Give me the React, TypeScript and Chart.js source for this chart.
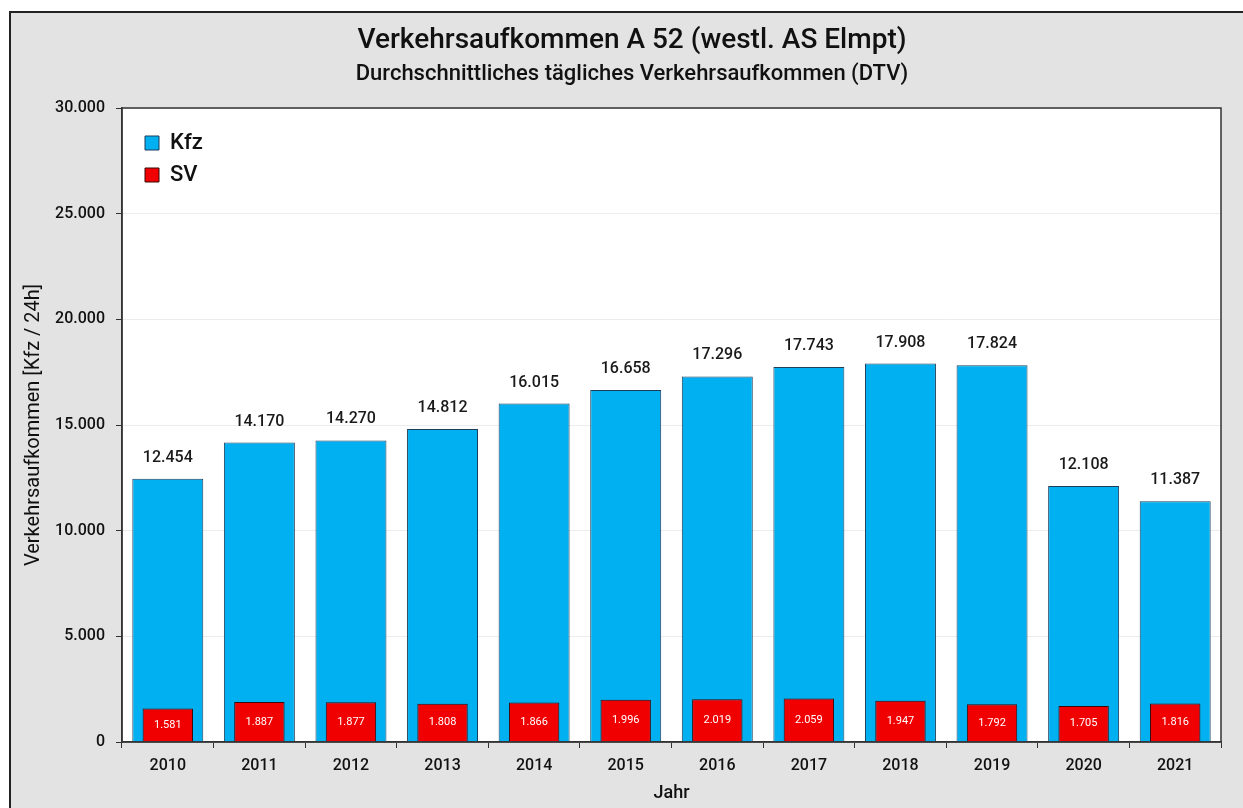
import React, { useEffect, useRef } from "react";
import { Chart, registerables } from "chart.js";

Chart.register(...registerables);

const years = ["2010", "2011", "2012", "2013", "2014", "2015", "2016", "2017", "2018", "2019", "2020", "2021"];
const kfzValues = [12454, 14170, 14270, 14812, 16015, 16658, 17296, 17743, 17908, 17824, 12108, 11387];
const svValues = [1581, 1887, 1877, 1808, 1866, 1996, 2019, 2059, 1947, 1792, 1705, 1816];
const yTicks = [0, 5000, 10000, 15000, 20000, 25000, 30000];

const FONT = 'Roboto, "Liberation Sans", sans-serif';

const fmt = (v: number) => String(v).replace(/\B(?=(\d{3})+(?!\d))/g, ".");

const framePlugin = {
  id: "frame",
  beforeDraw(chart: any) {
    const { ctx, width, height, chartArea } = chart;
    ctx.save();
    ctx.fillStyle = "#ffffff";
    ctx.fillRect(0, 0, width, height);
    ctx.fillStyle = "#e3e3e3";
    ctx.fillRect(9, 11, width - 9, height - 11);
    ctx.strokeStyle = "#222222";
    ctx.lineWidth = 2;
    ctx.beginPath();
    ctx.moveTo(10, height);
    ctx.lineTo(10, 12);
    ctx.lineTo(width, 12);
    ctx.stroke();
    ctx.fillStyle = "#ffffff";
    ctx.fillRect(chartArea.left, chartArea.top, chartArea.right - chartArea.left, chartArea.bottom - chartArea.top);
    ctx.restore();
  },
  afterDraw(chart: any) {
    const { ctx, chartArea } = chart;
    ctx.save();
    ctx.strokeStyle = "#333333";
    ctx.lineWidth = 1.5;
    ctx.strokeRect(chartArea.left, chartArea.top, chartArea.right - chartArea.left, chartArea.bottom - chartArea.top);
    ctx.restore();
  },
};

const legendPlacePlugin = {
  id: "legendPlace",
  afterLayout(chart: any) {
    const lg = chart.legend;
    if (!lg) return;
    const ca = chart.chartArea;
    const w = lg.width;
    const h = lg.height;
    lg.left = ca.left + 13;
    lg.top = ca.top + 14;
    lg.right = lg.left + w;
    lg.bottom = lg.top + h;
  },
};

const valueLabelPlugin = {
  id: "valueLabels",
  afterDatasetsDraw(chart: any) {
    const { ctx } = chart;
    ctx.save();
    ctx.textAlign = "center";
    ctx.textBaseline = "middle";
    const kfzMeta = chart.getDatasetMeta(0);
    ctx.fillStyle = "#1a1a1a";
    ctx.font = `500 16px ${FONT}`;
    kfzMeta.data.forEach((bar: any, i: number) => {
      ctx.fillText(fmt(kfzValues[i]), bar.x, bar.y - 21);
    });
    const svMeta = chart.getDatasetMeta(1);
    ctx.fillStyle = "#ffffff";
    ctx.font = `11px ${FONT}`;
    svMeta.data.forEach((bar: any, i: number) => {
      ctx.fillText(fmt(svValues[i]), bar.x, (bar.y + bar.base) / 2);
    });
    ctx.restore();
  },
};

export default function App() {
  const ref = useRef<HTMLCanvasElement | null>(null);

  useEffect(() => {
    document.body.style.margin = "0";
    const canvas = ref.current;
    if (!canvas) return;
    const chart = new Chart(canvas, {
      type: "bar",
      data: {
        labels: years,
        datasets: [
          {
            label: "Kfz",
            data: kfzValues,
            backgroundColor: "#00b0f0",
            borderColor: "#1d3d58",
            borderWidth: 1,
            categoryPercentage: 0.775,
            barPercentage: 1,
            grouped: false,
            order: 1,
          } as any,
          {
            label: "SV",
            data: svValues,
            backgroundColor: "#f00000",
            borderColor: "#3a0808",
            borderWidth: 1,
            categoryPercentage: 0.55,
            barPercentage: 1,
            grouped: false,
            order: 0,
          } as any,
        ],
      },
      options: {
        responsive: false,
        animation: false,
        devicePixelRatio: 1,
        layout: { padding: { left: 43, right: 22, top: 0, bottom: 0 } },
        plugins: {
          title: {
            display: true,
            text: "Verkehrsaufkommen A 52 (westl. AS Elmpt)",
            color: "#111111",
            font: { family: FONT, size: 28, weight: "500" },
            padding: { top: 24, bottom: 2 },
          },
          subtitle: {
            display: true,
            text: "Durchschnittliches tägliches Verkehrsaufkommen (DTV)",
            color: "#111111",
            font: { family: FONT, size: 22, weight: "500" },
            padding: { top: 2, bottom: 20 },
          },
          legend: {
            display: true,
            position: "chartArea" as any,
            align: "start",
            labels: {
              boxWidth: 14,
              boxHeight: 14,
              padding: 10,
              color: "#111111",
              font: { family: FONT, size: 22, weight: "500" },
              sort: (a: any, b: any) => a.datasetIndex - b.datasetIndex,
            },
          },
          tooltip: { enabled: false },
        },
        scales: {
          x: {
            offset: true,
            afterFit: (scale: any) => {
              scale.height = 66;
            },
            grid: {
              drawOnChartArea: false,
              drawTicks: true,
              tickLength: 6,
              color: "#333333",
              offset: true,
            },
            border: { display: true, color: "#333333", width: 1.5 },
            ticks: {
              color: "#111111",
              padding: 8,
              font: { family: FONT, size: 16, weight: "500" },
            },
            title: {
              display: true,
              text: "Jahr",
              color: "#111111",
              font: { family: FONT, size: 18, weight: "500" },
              padding: { top: 0, bottom: 4 },
            },
          },
          y: {
            min: 0,
            max: 30000,
            afterFit: (scale: any) => {
              scale.width = 79;
            },
            afterBuildTicks: (scale: any) => {
              scale.ticks = yTicks.map((v) => ({ value: v }));
            },
            grid: {
              color: "#ececec",
              lineWidth: 1,
              drawTicks: true,
              tickLength: 6,
              tickColor: "#333333",
            },
            border: { display: true, color: "#333333", width: 1.5 },
            ticks: {
              color: "#111111",
              padding: 11,
              font: { family: FONT, size: 16, weight: "500" },
              callback: (v: any) => fmt(Number(v)),
            },
            title: {
              display: true,
              text: "Verkehrsaufkommen [Kfz / 24h]",
              color: "#111111",
              font: { family: FONT, size: 20 },
              padding: { top: -21, bottom: 0 },
            },
          },
        },
      },
      plugins: [framePlugin, legendPlacePlugin, valueLabelPlugin],
    } as any);
    return () => chart.destroy();
  }, []);

  return <canvas ref={ref} width={1243} height={808} style={{ display: "block" }} />;
}
